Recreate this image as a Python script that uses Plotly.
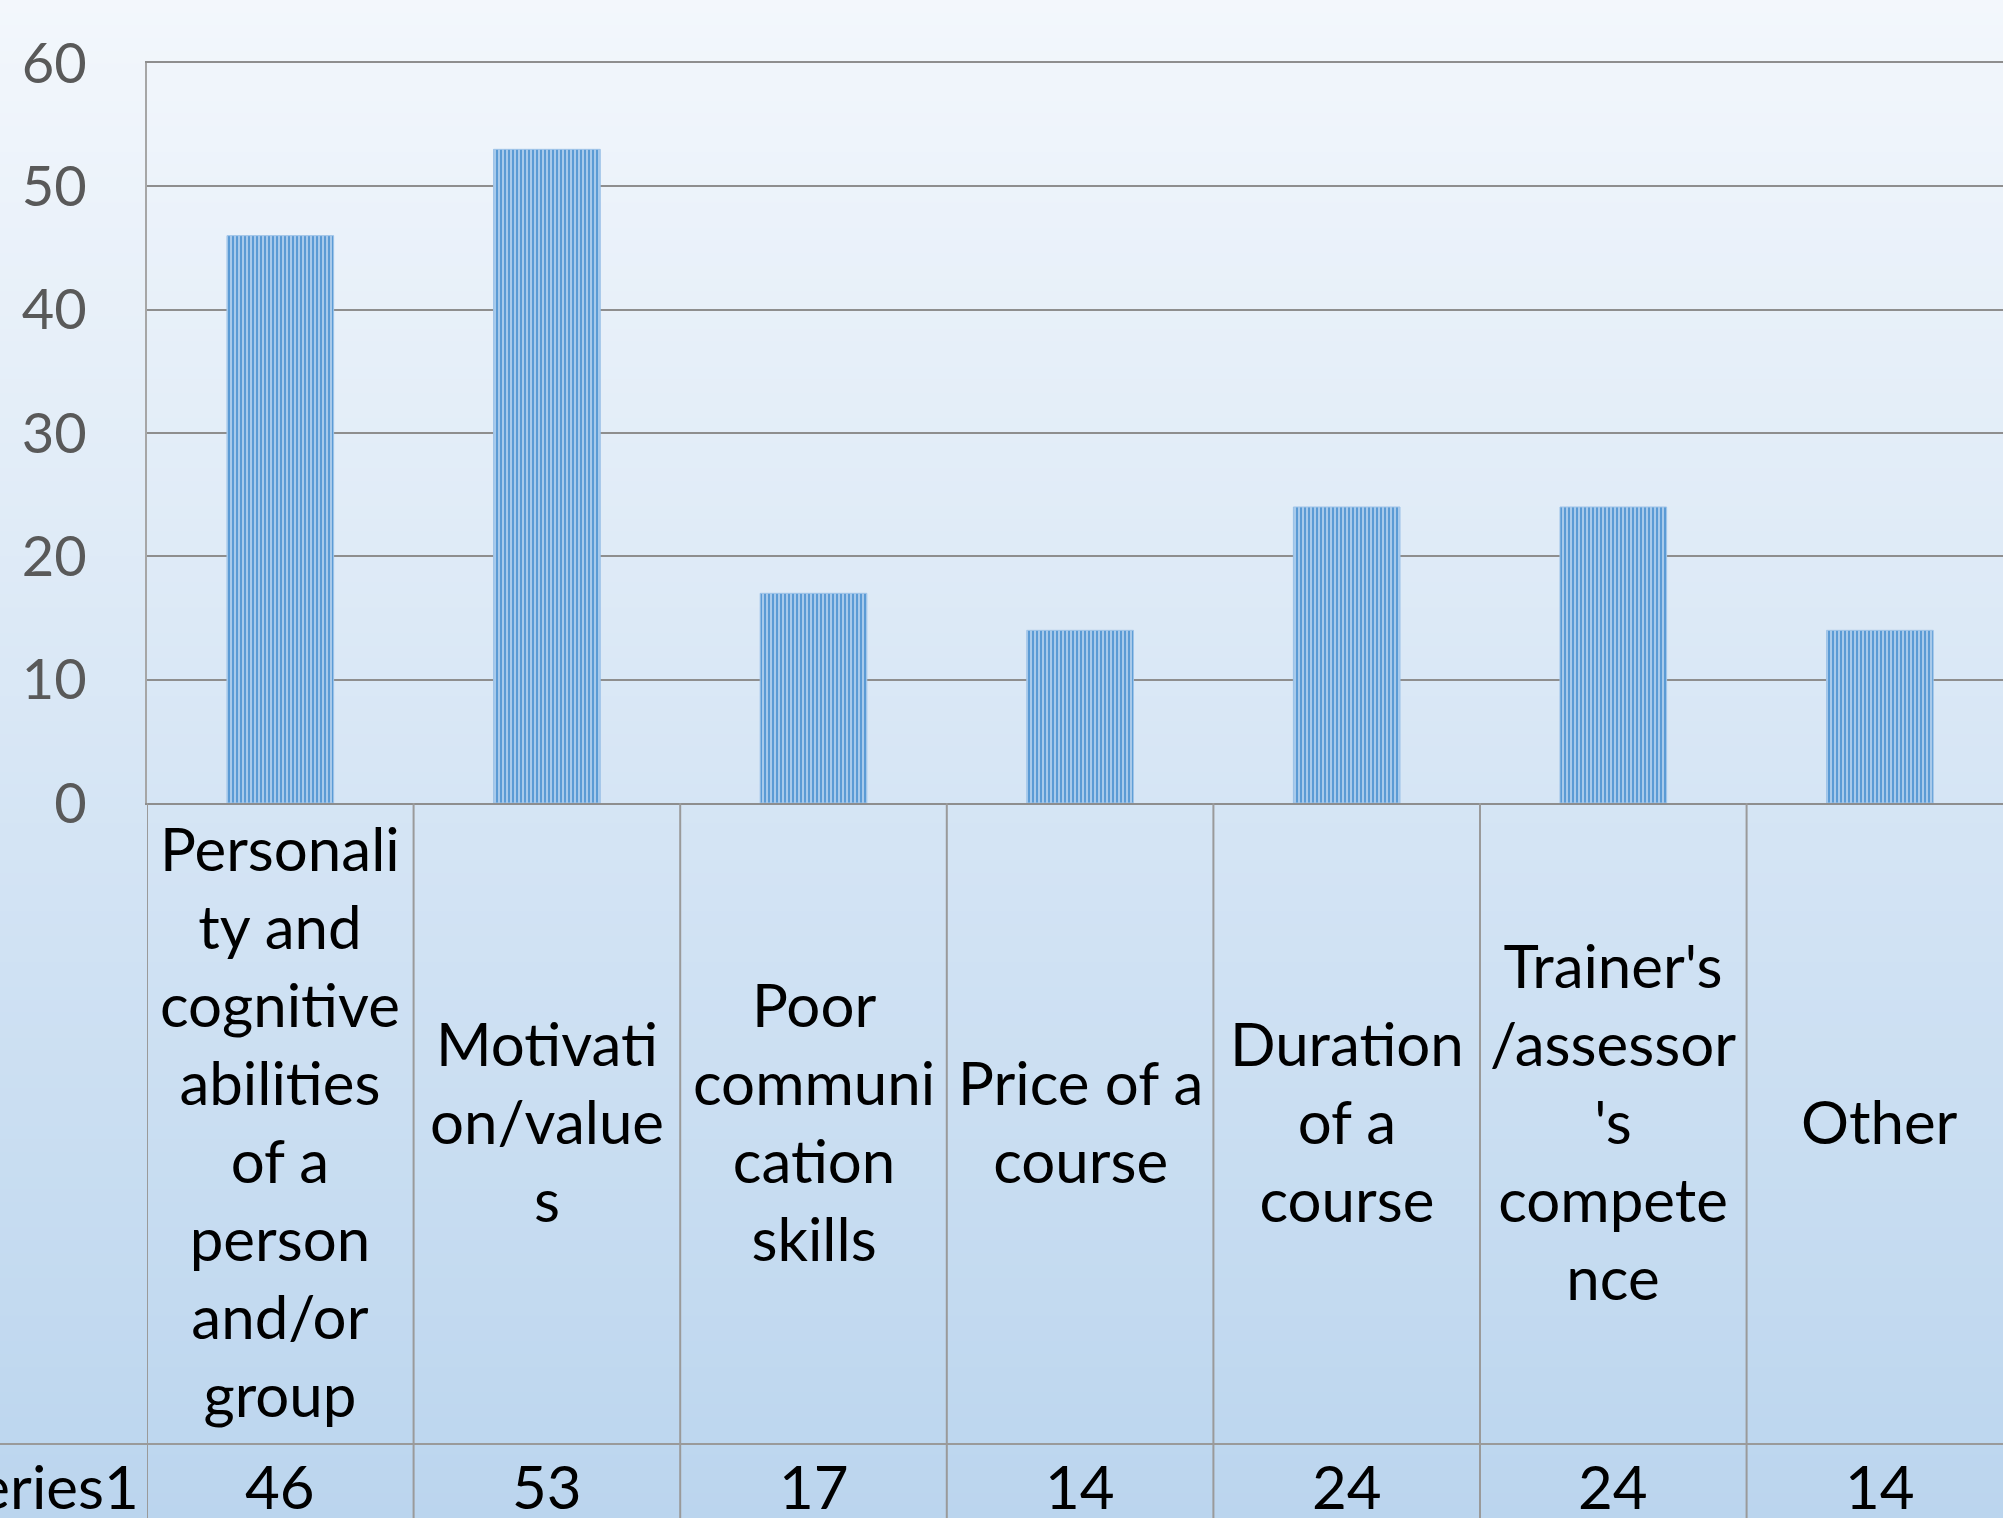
import plotly.graph_objects as go

# ---- data ----
categories = [
    "Personality and cognitive abilities of a person and/or group",
    "Motivation/values",
    "Poor communication skills",
    "Price of a course",
    "Duration of a course",
    "Trainer's/assessor's competence",
    "Other",
]
category_labels = [
    "Personali<br>ty and<br>cognitive<br>abilities<br>of a<br>person<br>and/or<br>group",
    "Motivati<br>on/value<br>s",
    "Poor<br>communi<br>cation<br>skills",
    "Price of a<br>course",
    "Duration<br>of a<br>course",
    "Trainer's<br>/assessor<br>'s<br>compete<br>nce",
    "Other",
]
series_name = "Series1"
values = [46, 53, 17, 14, 24, 24, 14]
y_ticks = [0, 10, 20, 30, 40, 50, 60]

# ---- geometry (pixels) ----
W, H = 2003, 1518
L, T = 147, 63
ZERO_Y = 803
PW = W - L            # plot width
PH = ZERO_Y - T       # plot height
CAT_W = 266.6         # pixel width of one category


def py(pix_y):
    """pixel y -> paper y"""
    return (ZERO_Y - pix_y) / PH


def px(pix_x):
    return (pix_x - L) / PW


font_family = "Lato, 'Open Sans', sans-serif"

fig = go.Figure()

x_idx = list(range(len(categories)))
fig.add_trace(go.Bar(
    x=x_idx,
    y=values,
    width=0.4,
    marker=dict(
        color="#8FB8E3",
        line=dict(color="#9EC3E8", width=1),
        pattern=dict(shape="|", fgcolor="#5B9BD5", bgcolor="#A8CAEB",
                     size=4, solidity=0.5, fillmode="replace"),
    ),
    hoverinfo="x+y",
    showlegend=False,
))

shapes = []
# gradient background
N = 120
top = (243, 247, 252)
bot = (187, 213, 238)
for i in range(N):
    f = (i + 0.5) / N
    c = tuple(round(top[k] + (bot[k] - top[k]) * f) for k in range(3))
    y0 = i * H / N
    y1 = (i + 1) * H / N + 1
    shapes.append(dict(type="rect", xref="paper", yref="paper",
                       x0=px(0), x1=px(W), y0=py(y1), y1=py(y0),
                       fillcolor="rgb(%d,%d,%d)" % c, line=dict(width=0),
                       layer="below"))

grid_col = "#9A9A9A"
# table vertical lines
for k in range(len(categories) + 1):
    shapes.append(dict(type="line", xref="x", yref="paper",
                       x0=k - 0.5, x1=k - 0.5, y0=0, y1=py(H),
                       line=dict(color=grid_col, width=2)))
# table horizontal line between label row and series row
shapes.append(dict(type="line", xref="paper", yref="paper",
                   x0=px(0), x1=1, y0=py(1444), y1=py(1444),
                   line=dict(color=grid_col, width=2)))

annotations = []
for i, lab in enumerate(category_labels):
    annotations.append(dict(x=i, xref="x", y=py(1121), yref="paper",
                            text=lab, showarrow=False, xanchor="center",
                            yanchor="middle", align="center",
                            font=dict(family=font_family, size=60, color="#000000")))
for i, v in enumerate(values):
    annotations.append(dict(x=i, xref="x", y=py(1486), yref="paper",
                            text=str(v), showarrow=False, xanchor="center",
                            yanchor="middle",
                            font=dict(family=font_family, size=60, color="#000000")))
annotations.append(dict(x=px(141), xref="paper", y=py(1486), yref="paper",
                        text=series_name, showarrow=False, xanchor="right",
                        yanchor="middle",
                        font=dict(family=font_family, size=60, color="#000000")))

fig.update_layout(
    width=W, height=H,
    margin=dict(l=L, r=0, t=T, b=H - ZERO_Y, pad=0),
    paper_bgcolor="#DCE9F6",
    plot_bgcolor="rgba(0,0,0,0)",
    shapes=shapes,
    annotations=annotations,
    showlegend=False,
    bargap=0.6,
    xaxis=dict(range=[-0.5, -0.5 + PW / CAT_W], showticklabels=False,
               showgrid=False, zeroline=False, showline=True, mirror=True,
               linecolor="#8E8E8E", linewidth=2, ticks="",
               fixedrange=True),
    yaxis=dict(range=[0, 60], tickvals=y_ticks,
               ticktext=[str(t) for t in y_ticks],
               showgrid=True, gridcolor="#8E8E8E", gridwidth=2,
               zeroline=False, showline=True, linecolor="#A6A6A6",
               linewidth=2, ticks="", ticklabelstandoff=47,
               tickfont=dict(family=font_family, size=56, color="#595959"),
               fixedrange=True),
    font=dict(family=font_family),
)

fig.write_html(
    "out.html",
    config={"displayModeBar": False},
    post_script="document.body.style.margin='0';document.body.style.overflow='hidden';",
)
